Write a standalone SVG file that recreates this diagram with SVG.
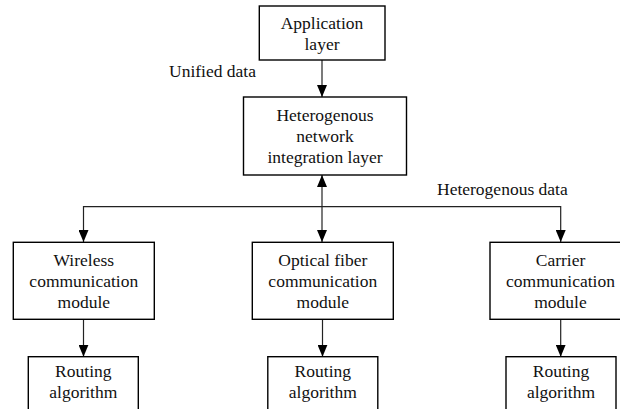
<svg xmlns="http://www.w3.org/2000/svg" width="620" height="409" viewBox="0 0 620 409">
<style>
.box{fill:#fff;stroke:#000;stroke-width:1.4}
.t{font-family:"Liberation Serif","Times New Roman",serif;font-size:17.5px;fill:#111;text-anchor:middle}
.lbl{font-family:"Liberation Serif","Times New Roman",serif;font-size:17.5px;fill:#111}
.c{fill:none;stroke:#222;stroke-width:1.2}
</style>
<defs>
<marker id="ah" viewBox="0 0 12 10" refX="12" refY="5" markerWidth="12" markerHeight="10" markerUnits="userSpaceOnUse" orient="auto-start-reverse">
<path d="M0,0 L12,5 L0,10 z" fill="#000"/>
</marker>
</defs>
<rect width="620" height="409" fill="#fff"/>
<g id="connectors">
<path class="c" d="M322,60 V97" marker-end="url(#ah)"/>
<path class="c" d="M322,175 V242" marker-start="url(#ah)" marker-end="url(#ah)"/>
<path class="c" d="M322,206.7 H83.5 V242" marker-end="url(#ah)"/>
<path class="c" d="M322,206.7 H560.7 V242" marker-end="url(#ah)"/>
<path class="c" d="M83.5,319.3 V356.7" marker-end="url(#ah)"/>
<path class="c" d="M322.5,319.3 V356.7" marker-end="url(#ah)"/>
<path class="c" d="M560.7,319.3 V356.7" marker-end="url(#ah)"/>
<text class="lbl" x="169" y="77">Unified data</text>
<text class="lbl" x="437" y="195">Heterogenous data</text>
</g>
<g id="app">
<rect class="box" x="259.3" y="6" width="125.7" height="54"/>
<text class="t" x="322" y="28.5">Application</text>
<text class="t" x="322" y="49.5">layer</text>
</g>
<g id="integration">
<rect class="box" x="243.5" y="97" width="163" height="78"/>
<text class="t" x="325" y="121">Heterogenous</text>
<text class="t" x="325" y="142">network</text>
<text class="t" x="325" y="163">integration layer</text>
</g>
<g id="wireless">
<rect class="box" x="13.3" y="242.3" width="141" height="77"/>
<text class="t" x="83.8" y="265.5">Wireless</text>
<text class="t" x="83.8" y="286.5">communication</text>
<text class="t" x="83.8" y="307.5">module</text>
</g>
<g id="optical">
<rect class="box" x="252.3" y="242.3" width="141" height="77"/>
<text class="t" x="322.8" y="265.5">Optical fiber</text>
<text class="t" x="322.8" y="286.5">communication</text>
<text class="t" x="322.8" y="307.5">module</text>
</g>
<g id="carrier">
<rect class="box" x="490" y="242.3" width="141" height="77"/>
<text class="t" x="560.5" y="265.5">Carrier</text>
<text class="t" x="560.5" y="286.5">communication</text>
<text class="t" x="560.5" y="307.5">module</text>
</g>
<g id="routing1">
<rect class="box" x="28.3" y="356.7" width="110" height="60"/>
<text class="t" x="83.3" y="376.5">Routing</text>
<text class="t" x="83.3" y="397.5">algorithm</text>
</g>
<g id="routing2">
<rect class="box" x="267.8" y="356.7" width="110" height="60"/>
<text class="t" x="322.8" y="376.5">Routing</text>
<text class="t" x="322.8" y="397.5">algorithm</text>
</g>
<g id="routing3">
<rect class="box" x="506" y="356.7" width="110" height="60"/>
<text class="t" x="561" y="376.5">Routing</text>
<text class="t" x="561" y="397.5">algorithm</text>
</g>
</svg>
